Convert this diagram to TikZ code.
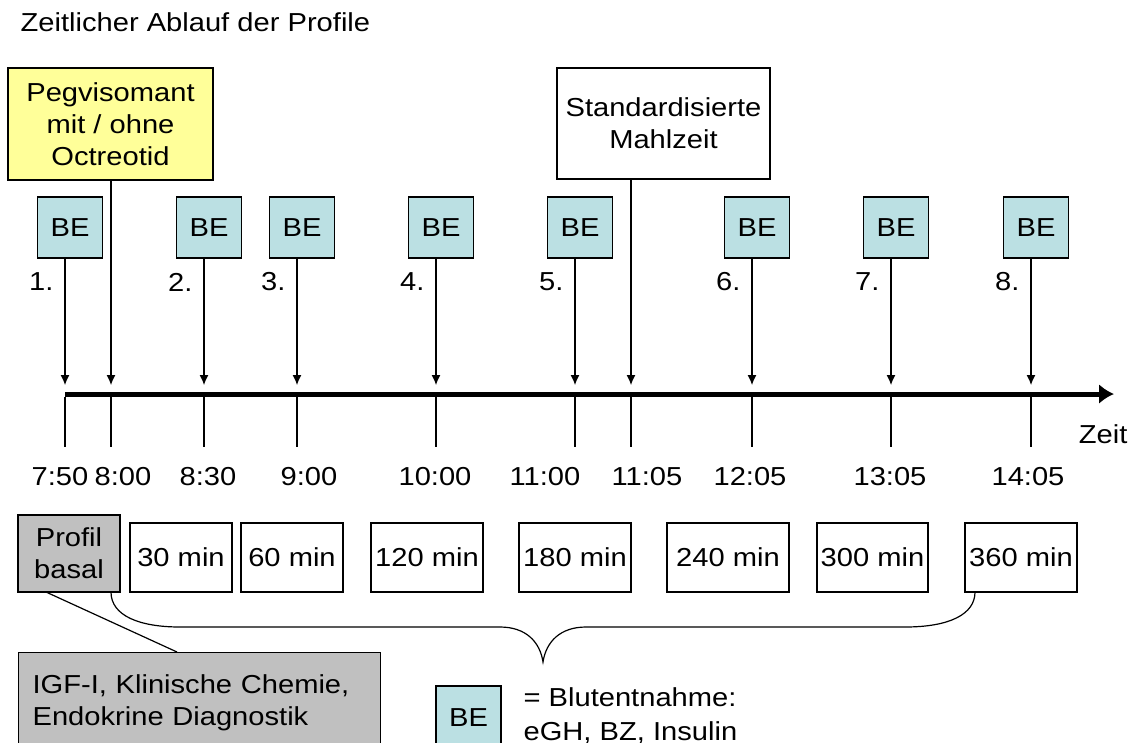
\documentclass[tikz,border=0pt]{standalone}
\usepackage{fontspec}
\setmainfont{Liberation Sans}[FakeStretch=1.12]
\usetikzlibrary{arrows, arrows.meta}

\definecolor{gelb}{RGB}{255,255,153}
\definecolor{beblau}{RGB}{187,224,227}
\definecolor{grau}{RGB}{192,192,192}

\begin{document}
\begin{tikzpicture}[>=latex, x=1pt, y=-1pt, line width=1.2pt,
  font=\fontsize{26}{32}\selectfont,
  bebox/.style={draw, fill=beblau, minimum width=65pt, minimum height=61pt, inner sep=0pt},
  textbox/.style={draw, align=center, inner sep=0pt},
  minbox/.style={draw, minimum height=69pt, inner sep=0pt},
  pfeil/.style={-{Latex[length=10pt,width=9pt]}}]

\useasboundingbox (0,0) rectangle (1139,742);
\clip (0,0) rectangle (1139,742);

\node[anchor=west, inner sep=0pt] (titel) at (20,22) {Zeitlicher Ablauf der Profile};

% Medikation und Mahlzeit
\node[textbox, fill=gelb, minimum width=205pt, minimum height=112pt] (pegvi) at (110.5,124) {Pegvisomant\\mit / ohne\\Octreotid};
\node[textbox, fill=white, minimum width=213pt, minimum height=111pt] (mahlzeit) at (663.5,123.5) {Standardisierte\\Mahlzeit};

\coordinate (spitzeP) at (111,385);
\coordinate (spitzeM) at (631,385);
\draw[pfeil] (pegvi.south -| spitzeP) -- (spitzeP);
\draw[pfeil] (mahlzeit.south -| spitzeM) -- (spitzeM);

% Blutentnahmen
\foreach \x/\nr [count=\i] in {65/1, 204/2, 297/3, 436/4, 575/5, 752/6, 891/7, 1031/8}
{
\node[bebox] (be\i) at (\x+5, 227.5) {BE};
\node[anchor=east, inner sep=0pt] (nr\i) at (\x-11, 282) {\nr.};
\coordinate (spitze\i) at (\x, 385);
\draw[pfeil] (be\i.south -| spitze\i) -- (spitze\i);
}

% Zeitachse
\coordinate (achseA) at (65,394);
\coordinate (achseB) at (1114,394);
\draw[line width=5pt, -{Latex[length=15pt,width=20pt]}] (achseA) -- (achseB);
\node[anchor=east, inner sep=0pt] (zeitlabel) at (1128,434) {Zeit};

\foreach \x/\zeit/\lx [count=\i] in {65/7:50/60, 111/8:00/123, 204/8:30/208, 297/9:00/309, 436/10:00/435, 575/11:00/545, 631/11:05/647, 752/12:05/750, 891/13:05/890, 1031/14:05/1028}
{
\coordinate (strichO\i) at (\x,397);
\coordinate (strichU\i) at (\x,447);
\draw (strichO\i) -- (strichU\i);
\node (zeit\i) at (\lx,477) {\zeit};
}

% Profile
\node[textbox, fill=grau, minimum width=102pt, minimum height=77pt] (basal) at (69,553.5) {Profil\\basal};
\foreach \xa/\xb/\m in {130/232/30, 241/343/60, 371/483/120, 519/631/180, 667/789/240, 817/928/300, 965/1077/360}
{
\pgfmathsetmacro\breite{\xb-\xa}
\node[minbox, minimum width=\breite pt] (min\m) at ({(\xa+\xb)/2}, 557.5) {\m{} min};
}

% Klammer
\coordinate (klA) at (111,592);
\coordinate (klB) at (975,592);
\draw (klA) .. controls (111,616) and (140,627) .. (180,627) -- (500,627)
  .. controls (526,627) and (540,642) .. (543,662)
  .. controls (546,642) and (560,627) .. (586,627) -- (905,627)
  .. controls (950,627) and (975,614) .. (klB);

% Basal-Diagnostik
\coordinate (basalFuss) at (46,592);
\coordinate (igfKopf) at (177,652);
\draw (basalFuss) -- (igfKopf);
\node[draw, fill=grau, anchor=north west, minimum height=100pt, text width=334pt, inner xsep=14pt, inner ysep=0pt, align=left] (igf) at (18,652) {IGF-I, Klinische Chemie,\\Endokrine Diagnostik};

% Legende
\node[bebox, minimum height=64pt] (legbe) at (468.5,718) {BE};
\node[anchor=west, align=left, inner sep=0pt] (legtext) at (523,716) {= Blutentnahme:\\[2pt]eGH, BZ, Insulin};

\end{tikzpicture}
\end{document}
